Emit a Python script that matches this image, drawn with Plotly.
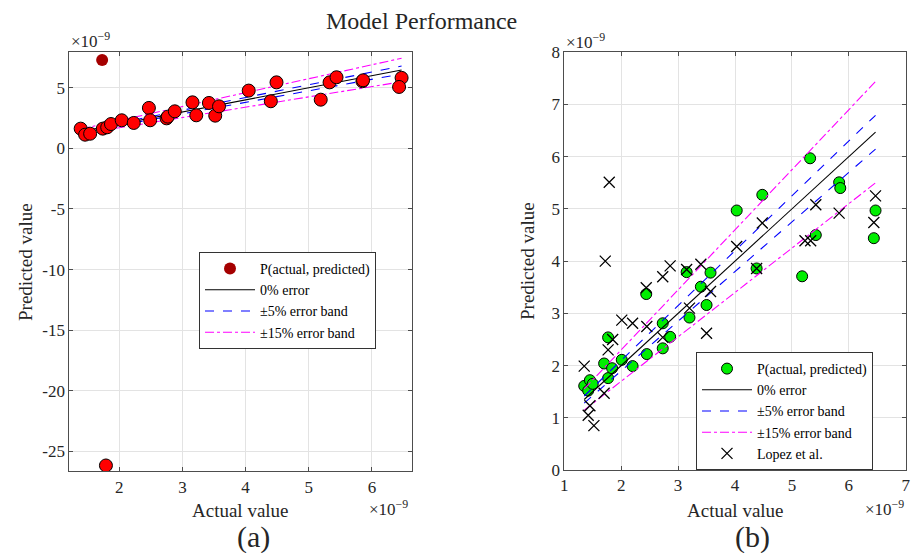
import plotly.graph_objects as go

# ---------------- data (values in units of 1e-9) ----------------
# Panel (a): model predictions
A_ACTUAL = [1.39, 1.46, 1.54, 1.74, 1.81, 1.87, 2.04, 2.23, 2.47, 2.49, 2.75, 2.77,
            2.88, 3.16, 3.22, 3.42, 3.52, 3.58, 4.05, 4.40, 4.49, 5.19, 5.33, 5.44,
            5.85, 5.86, 6.47, 6.43, 1.79]
A_PRED = [1.63, 1.13, 1.21, 1.63, 1.74, 2.01, 2.32, 2.10, 3.34, 2.32, 2.48, 2.62,
          3.06, 3.80, 2.73, 3.75, 2.70, 3.47, 4.77, 3.89, 5.45, 4.02, 5.45, 5.87,
          5.54, 5.62, 5.82, 5.07, -26.17]
# Panel (a): highlighted outlier point (dark red)
A_OUT_ACTUAL = [1.73]
A_OUT_PRED = [7.30]

# Panel (b): model predictions
B_ACTUAL = [1.35, 1.42, 1.45, 1.50, 1.70, 1.77, 1.77, 1.84, 2.01, 2.20, 2.44, 2.45,
            2.73, 2.73, 2.86, 3.15, 3.20, 3.40, 3.50, 3.57, 4.03, 4.38, 4.48, 5.18,
            5.32, 5.42, 5.83, 5.85, 6.44, 6.47]
B_PRED = [1.61, 1.52, 1.72, 1.65, 2.04, 1.76, 2.54, 1.95, 2.11, 1.99, 3.37, 2.22,
          2.81, 2.33, 2.55, 3.79, 2.92, 3.51, 3.16, 3.78, 4.97, 3.86, 5.27, 3.71,
          5.97, 4.50, 5.51, 5.40, 4.44, 4.97]
# Panel (b): Lopez et al.
L_ACTUAL = [1.35, 1.42, 1.45, 1.52, 1.70, 1.72, 1.77, 1.79, 1.85, 2.01, 2.20, 2.44,
            2.45, 2.73, 2.73, 2.86, 3.15, 3.20, 3.40, 3.50, 3.57, 4.03, 4.38, 4.48,
            5.23, 5.33, 5.42, 5.83, 6.44, 6.47]
L_PRED = [1.99, 1.05, 1.23, 0.85, 1.47, 4.00, 2.30, 5.51, 2.50, 2.87, 2.81, 3.49,
          2.75, 3.70, 2.54, 3.91, 3.84, 3.10, 3.94, 2.62, 3.42, 4.28, 3.86, 4.73,
          4.39, 4.39, 5.08, 4.92, 4.74, 5.25]

BAND5 = 0.05
BAND15 = 0.15

A_XTICKS = [2, 3, 4, 5, 6]
A_YTICKS = [-25, -20, -15, -10, -5, 0, 5]
A_YTICKTEXT = ["-25", "-20", "-15", "-10", "-5", "0", "5"]
B_XTICKS = [1, 2, 3, 4, 5, 6, 7]
B_YTICKS = [0, 1, 2, 3, 4, 5, 6, 7, 8]

TITLE = "Model Performance"
XLABEL = "Actual value"
YLABEL = "Predicted value"
EXP_LABEL = "×10<sup>−9</sup>"
LEG_POINTS = "P(actual, predicted)"
LEG_ZERO = "0% error"
LEG_5 = "±5% error band"
LEG_15 = "±15% error band"
LEG_LOPEZ = "Lopez et al."

# ---------------- styling ----------------
W, H = 912, 553
FONT = "'Liberation Serif', 'DejaVu Serif', serif"
AX_COLOR = "#4d4d4d"
GRID = "#e3e3e3"


def px(x):
    return x / W


def py(y):
    return 1 - y / H


fig = go.Figure()


def add_bands(xs, xa, ya, legend, showleg):
    lo, hi = min(xs), max(xs)
    ends = [lo, hi]
    fig.add_trace(go.Scatter(x=ends, y=ends, mode="lines", name=LEG_ZERO,
                             line=dict(color="black", width=1.1),
                             xaxis=xa, yaxis=ya, legend=legend, showlegend=showleg))
    for k, f in enumerate([1 + BAND5, 1 - BAND5]):
        fig.add_trace(go.Scatter(x=ends, y=[v * f for v in ends], mode="lines", name=LEG_5,
                                 line=dict(color="#0000ff", width=1.1, dash="dash"),
                                 xaxis=xa, yaxis=ya, legend=legend,
                                 showlegend=showleg and k == 0, legendgroup=legend + "5"))
    for k, f in enumerate([1 + BAND15, 1 - BAND15]):
        fig.add_trace(go.Scatter(x=ends, y=[v * f for v in ends], mode="lines", name=LEG_15,
                                 line=dict(color="#ff00ff", width=1.1, dash="dashdot"),
                                 xaxis=xa, yaxis=ya, legend=legend,
                                 showlegend=showleg and k == 0, legendgroup=legend + "15"))


# ---- panel (a)
fig.add_trace(go.Scatter(x=A_OUT_ACTUAL, y=A_OUT_PRED, mode="markers", name=LEG_POINTS,
                         marker=dict(color="#a50000", size=12, line=dict(width=0)),
                         xaxis="x", yaxis="y", legend="legend"))
add_bands(A_ACTUAL[:-1], "x", "y", "legend", True)
fig.add_trace(go.Scatter(x=A_ACTUAL, y=A_PRED, mode="markers", name=LEG_POINTS,
                         marker=dict(color="#ff0000", size=13, line=dict(width=1, color="black")),
                         xaxis="x", yaxis="y", showlegend=False))

# ---- panel (b)
fig.add_trace(go.Scatter(x=B_ACTUAL, y=B_PRED, mode="markers", name=LEG_POINTS,
                         marker=dict(color="#00ee00", size=11, line=dict(width=1, color="black")),
                         xaxis="x2", yaxis="y2", legend="legend2"))
add_bands(B_ACTUAL, "x2", "y2", "legend2", True)
fig.add_trace(go.Scatter(x=L_ACTUAL, y=L_PRED, mode="markers", name=LEG_LOPEZ,
                         marker=dict(symbol="x-thin", size=11, color="black",
                                     line=dict(width=1.3, color="black")),
                         xaxis="x2", yaxis="y2", legend="legend2"))

axis_common = dict(showline=True, linecolor=AX_COLOR, linewidth=1, mirror="ticks",
                   ticks="inside", ticklen=4, tickcolor=AX_COLOR, showgrid=True,
                   gridcolor=GRID, gridwidth=1, zeroline=False, automargin=False,
                   tickfont=dict(family=FONT, size=17, color="#262626"))

legend_common = dict(xanchor="left", yanchor="top", bgcolor="white",
                     bordercolor="#333333", borderwidth=1,
                     font=dict(family=FONT, size=14, color="black"),
                     tracegroupgap=0, itemwidth=50)

fig.update_layout(
    width=W, height=H, margin=dict(l=0, r=0, t=0, b=0, pad=0, autoexpand=False),
    paper_bgcolor="white", plot_bgcolor="white",
    font=dict(family=FONT, color="#262626"),
    xaxis=dict(domain=[px(69.3), px(411.7)], range=[1.21, 6.63], tickvals=A_XTICKS,
               anchor="y", **axis_common),
    yaxis=dict(domain=[py(471.3), py(52.3)], range=[-26.65, 7.93], tickvals=A_YTICKS,
               ticktext=A_YTICKTEXT, anchor="x", **axis_common),
    xaxis2=dict(domain=[px(564.3), px(905.7)], range=[1, 7], tickvals=B_XTICKS,
                anchor="y2", **axis_common),
    yaxis2=dict(domain=[py(470), py(52.3)], range=[0, 8], tickvals=B_YTICKS,
                anchor="x2", **axis_common),
    legend=dict(x=px(199), y=py(252), **legend_common),
    legend2=dict(x=px(696), y=py(352), **legend_common),
    showlegend=True,
)

ann = []


def text(x, y, s, size, angle=0, xanchor="center"):
    ann.append(dict(x=px(x), y=py(y), xref="paper", yref="paper", text=s, showarrow=False,
                    font=dict(family=FONT, size=size, color="#262626"), textangle=angle,
                    xanchor=xanchor, yanchor="middle"))


text(421, 21, TITLE, 24)
text(240.5, 510, XLABEL, 19)
text(735, 510, XLABEL, 19)
text(25, 262, YLABEL, 19, angle=-90)
text(527, 261, YLABEL, 19, angle=-90)
text(253, 537, "(a)", 30)
text(752, 537, "(b)", 30)
text(69, 40, EXP_LABEL, 17, xanchor="left")
text(564, 41, EXP_LABEL, 17, xanchor="left")
text(410, 508, EXP_LABEL, 17, xanchor="right")
text(906, 508, EXP_LABEL, 17, xanchor="right")
fig.update_layout(annotations=ann)

fig.write_html("out.html", config={"displayModeBar": False},
               post_script="document.body.style.margin='0px';document.body.style.overflow='hidden';")
